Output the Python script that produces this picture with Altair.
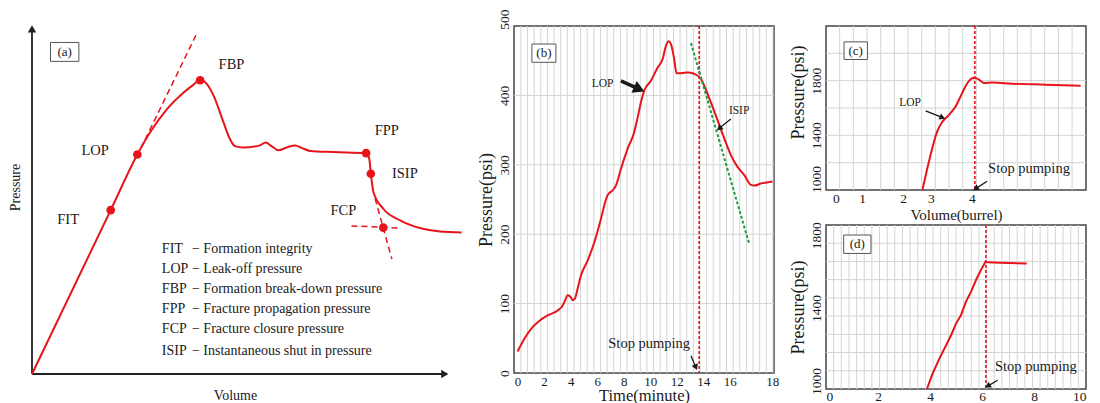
import math
import altair as alt
import pandas as pd

SERIF = "Liberation Serif, Times New Roman, DejaVu Serif, serif"
RED = "#e8141c"
GREEN = "#1f9d45"
GRID = "#d4d4d4"
FRAME = "#444444"
INK = "#1a1a1a"

# ---------------- panel (a): schematic (arbitrary units 0-100)
a_vol = [0, 18.3, 24.5, 27.4, 31.3, 35.2, 37.5, 39.1, 40.2, 42.2, 44.5, 46.0, 47.2, 49.1,
         53.0, 54.3, 55.7, 57.3, 59.2, 61.2, 62.7, 64.7, 70.1, 77.7, 78.4, 78.8, 79.4,
         81.7, 85.6, 90.2, 94.9, 99.9]
a_pres = [0, 46.8, 62.7, 68.9, 75.5, 80.3, 82.6, 83.9, 83.4, 79.6, 72.0, 67.2, 65.1, 64.7,
          65.3, 66.1, 65.1, 63.9, 64.7, 65.3, 64.6, 63.7, 63.4, 63.1, 61.7, 57.2, 52.0,
          47.2, 43.9, 41.7, 40.7, 40.4]
a_pt_vol = [18.3, 24.5, 39.1, 77.7, 78.8, 81.7]
a_pt_pres = [46.8, 62.7, 83.9, 63.1, 57.2, 41.8]
a_lab_name = ["FIT", "LOP", "FBP", "FPP", "ISIP", "FCP"]
a_lab_vol = [8.4, 14.7, 46.4, 82.5, 86.7, 72.4]
a_lab_pres = [43.9, 63.7, 88.2, 69.4, 57.2, 46.6]
a_dash_x1 = [25.3, 74.3, 79.8]
a_dash_y1 = [64.4, 42.3, 50.1]
a_dash_x2 = [38.3, 85.6, 83.7]
a_dash_y2 = [97.2, 41.7, 32.8]
leg_code = ["FIT", "LOP", "FBP", "FPP", "FCP", "ISIP"]
leg_desc = ["\u2212 Formation integrity", "\u2212 Leak-off pressure",
            "\u2212 Formation break-down pressure", "\u2212 Fracture propagation pressure",
            "\u2212 Fracture closure pressure", "\u2212 Instantaneous shut in pressure"]
leg_pres = [35.8, 30.1, 24.2, 18.5, 12.8, 6.5]

# ---------------- panel (b): pressure vs time
b_time = [0.0, 0.50, 1.13, 1.63, 2.26, 3.02, 3.39, 3.59, 3.77, 4.02, 4.15, 4.32, 4.52, 4.77,
          5.28, 5.78, 6.28, 6.53, 6.78, 7.16, 7.41, 7.79, 8.29, 8.79, 9.05, 9.30, 9.55,
          10.05, 10.55, 10.93, 11.18, 11.38, 11.56, 11.81, 11.98, 12.31, 12.81, 13.32,
          13.82, 14.07, 14.57, 15.08, 15.58, 16.08, 16.58, 17.09, 17.59, 17.84, 18.34, 19.22]
b_pres = [31, 49, 66, 75, 83, 90, 97, 105, 112, 109, 105, 107, 121, 140, 162, 188, 222, 241,
          256, 263, 270, 294, 323, 347, 368, 390, 407, 421, 440, 452, 471, 478, 474, 452,
          432, 432, 433, 431, 424, 414, 390, 364, 338, 314, 297, 285, 271, 270, 273, 276]
b_stop = [13.69]
b_tick_pos = [0, 2, 4, 6, 8, 10, 12, 14, 16, 19.2]
b_isip_line = [13.07, 475.5, 17.46, 186.0]

# ---------------- panel (c): pressure vs volume
c_vol = [2.79, 2.91, 3.03, 3.15, 3.28, 3.44, 3.60, 3.76, 3.89, 4.03, 4.13, 4.29, 4.50, 4.98, 5.80, 6.65]
c_pres = [1000, 1157, 1304, 1427, 1500, 1550, 1611, 1709, 1783, 1819, 1815, 1783, 1786, 1778, 1771, 1763]
c_stop = [4.07]
c_tick_pos = [0.68, 1.32, 2.32, 3.0, 4.0]
c_tick_txt = ["0", "1", "2", "3", "4"]

# ---------------- panel (d): pressure vs volume
d_vol = [3.88, 4.10, 4.36, 4.62, 4.81, 5.00, 5.19, 5.38, 5.58, 5.77, 5.96, 6.13, 6.22, 6.67, 7.72]
d_pres = [1000, 1084, 1167, 1240, 1295, 1359, 1405, 1478, 1534, 1598, 1653, 1698, 1695, 1693, 1689]
d_stop = [6.15]


def label_expr(pos, txt):
    e = "''"
    for p, t in reversed(list(zip(pos, txt))):
        e = f"abs(datum.value - {p}) < 0.001 ? '{t}' : ({e})"
    return e


def make_xy(xdom, ydom, xaxis, yaxis):
    def X(f):
        return alt.X(f, type="quantitative", axis=xaxis,
                     scale=alt.Scale(domain=xdom, nice=False, zero=False))

    def Y(f):
        return alt.Y(f, type="quantitative", axis=yaxis,
                     scale=alt.Scale(domain=ydom, nice=False, zero=False))
    return X, Y


def arrow(x1, y1, x2, y2, sx, sy, X, Y, width=1.3, head=45, color=INK):
    df = pd.DataFrame({"x": [x1], "y": [y1], "x2": [x2], "y2": [y2]})
    ang = math.degrees(math.atan2(-(y2 - y1) * sy, (x2 - x1) * sx)) % 360
    shaft = alt.Chart(df).mark_rule(color=color, strokeWidth=width).encode(
        x=X("x"), y=Y("y"), x2=alt.X2("x2"), y2=alt.Y2("y2"))
    tip = alt.Chart(df).mark_point(shape="triangle-right", filled=True, color=color,
                                   size=head, angle=ang, opacity=1).encode(x=X("x2"), y=Y("y2"))
    return [shaft, tip]


def texts(xs, ys, ts, X, Y, size, align="center"):
    df = pd.DataFrame({"x": xs, "y": ys, "t": ts})
    return alt.Chart(df).mark_text(font=SERIF, fontSize=size, align=align, baseline="middle",
                                   color=INK).encode(x=X("x"), y=Y("y"), text="t:N")


def box(x1, x2, y1, y2, label, X, Y):
    df = pd.DataFrame({"x": [x1], "x2": [x2], "y": [y1], "y2": [y2], "t": [label],
                       "xc": [(x1 + x2) / 2], "yc": [(y1 + y2) / 2]})
    r = alt.Chart(df).mark_rect(fill="white", stroke="#555555", strokeWidth=1).encode(
        x=X("x"), x2=alt.X2("x2"), y=Y("y"), y2=alt.Y2("y2"))
    t = alt.Chart(df).mark_text(font=SERIF, fontSize=13, color=INK).encode(
        x=X("xc"), y=Y("yc"), text="t:N")
    return [r, t]


def vgrid(vals, X):
    return alt.Chart(pd.DataFrame({"g": vals})).mark_rule(color=GRID, strokeWidth=1).encode(x=X("g"))


def hgrid(vals, Y):
    return alt.Chart(pd.DataFrame({"g": vals})).mark_rule(color=GRID, strokeWidth=1).encode(y=Y("g"))


def curve(xs, ys, X, Y, interp="monotone"):
    return alt.Chart(pd.DataFrame({"x": xs, "y": ys})).mark_line(
        color=RED, strokeWidth=2, interpolate=interp).encode(x=X("x"), y=Y("y"))


def vdash(vals, X):
    return alt.Chart(pd.DataFrame({"s": vals})).mark_rule(
        color=RED, strokeWidth=1.6, strokeDash=[3, 2]).encode(x=X("s"))


# ================= panel (a)
A_W, A_H = 430, 348
ax_a = alt.Axis(title="Volume", domain=False, ticks=False, labels=False, grid=False,
                titleFontSize=14, titleX=203, titleY=21, titleBaseline="middle")
ay_a = alt.Axis(title="Pressure", domain=False, ticks=False, labels=False, grid=False,
                titleFontSize=14, titlePadding=10, titleY=161)
XA, YA = make_xy([0, 100], [0, 99.4], ax_a, ay_a)

axes_df = pd.DataFrame({"x": [0, 0], "y": [0, 0], "x2": [0, 96.0], "y2": [98.6, 0]})
a_layers = [
    alt.Chart(axes_df).mark_rule(color="#222222", strokeWidth=1.8).encode(
        x=XA("x"), y=YA("y"), x2=alt.X2("x2"), y2=alt.Y2("y2")),
    alt.Chart(pd.DataFrame({"x": [0], "y": [98.6]})).mark_point(
        shape="triangle-up", filled=True, color="#222222", size=70, opacity=1).encode(x=XA("x"), y=YA("y")),
    alt.Chart(pd.DataFrame({"x": [96.0], "y": [0]})).mark_point(
        shape="triangle-right", filled=True, color="#222222", size=70, opacity=1).encode(x=XA("x"), y=YA("y")),
    alt.Chart(pd.DataFrame({"x": a_dash_x1, "y": a_dash_y1, "x2": a_dash_x2, "y2": a_dash_y2})).mark_rule(
        color=RED, strokeWidth=1.5, strokeDash=[6, 4]).encode(
        x=XA("x"), y=YA("y"), x2=alt.X2("x2"), y2=alt.Y2("y2")),
    curve(a_vol, a_pres, XA, YA),
    alt.Chart(pd.DataFrame({"x": a_pt_vol, "y": a_pt_pres})).mark_circle(
        color=RED, size=75, opacity=1).encode(x=XA("x"), y=YA("y")),
    texts(a_lab_vol, a_lab_pres, a_lab_name, XA, YA, 14.5),
    texts([30.2] * 6, leg_pres, leg_code, XA, YA, 14, align="left"),
    texts([37.2] * 6, leg_pres, leg_desc, XA, YA, 14, align="left"),
] + box(4.3, 10.9, 89.3, 94.7, "(a)", XA, YA)
panel_a = alt.layer(*a_layers).properties(width=A_W, height=A_H,
                                          view=alt.ViewBackground(strokeOpacity=0))

# ================= panel (b)
B_W, B_H = 260, 347
bx_dom = [-0.27, 19.33]
ax_b = alt.Axis(title="Time(minute)", values=b_tick_pos,
                labelExpr="datum.value > 17 ? '18' : datum.label", format="d",
                grid=False, domain=False, ticks=False, tickSize=0, labelPadding=2,
                titleY=22, titleBaseline="middle",
                labelFontSize=13, titleFontSize=16.5, labelOverlap=False)
ay_b = alt.Axis(title="Pressure(psi)", values=[0, 100, 200, 300, 400, 500], labelAngle=270,
                labelAlign="center", labelBaseline="alphabetic", labelPadding=6, grid=False,
                domain=False, ticks=False, tickSize=0, labelFontSize=13.5, titleFontSize=18,
                titlePadding=2, labelOverlap=False, format="d",
                labelOffset={"condition": {"test": "datum.value == 500", "value": -7}, "value": 0})
XB, YB = make_xy(bx_dom, [0, 500], ax_b, ay_b)
sxb, syb = B_W / (bx_dom[1] - bx_dom[0]), B_H / 500
b_grid = [0.25 + 0.5 * k for k in range(39)]
b_layers = [
    vgrid(b_grid, XB),
    hgrid([100, 200, 300, 400], YB),
    curve(b_time, b_pres, XB, YB),
    vdash(b_stop, XB),
    alt.Chart(pd.DataFrame({"x": [b_isip_line[0]], "y": [b_isip_line[1]],
                            "x2": [b_isip_line[2]], "y2": [b_isip_line[3]]})).mark_rule(
        color=GREEN, strokeWidth=2, strokeDash=[3, 2]).encode(
        x=XB("x"), y=YB("y"), x2=alt.X2("x2"), y2=alt.Y2("y2")),
    texts([6.41], [417], ["LOP"], XB, YB, 11.5),
    texts([16.7], [378], ["ISIP"], XB, YB, 11.5),
    texts([9.92], [41.8], ["Stop pumping"], XB, YB, 14.5),
] + arrow(7.79, 421, 9.17, 409, sxb, syb, XB, YB, width=3.5, head=170) \
  + arrow(16.08, 366, 15.2, 352.5, sxb, syb, XB, YB) \
  + arrow(13.07, 25, 13.44, 8.2, sxb, syb, XB, YB) \
  + box(1.08, 2.89, 447.7, 474, "(b)", XB, YB)
panel_b = alt.layer(*b_layers).properties(width=B_W, height=B_H,
                                          view=alt.ViewBackground(stroke=FRAME, strokeWidth=1.5))

# ================= panel (c)
C_W, C_H = 260, 164
cx_dom = [0.44, 6.78]
ax_c = alt.Axis(title="Volume(burrel)", values=c_tick_pos, labelExpr=label_expr(c_tick_pos, c_tick_txt),
                grid=False, domain=False, ticks=False, tickSize=0, labelPadding=1,
                titleY=24, titleBaseline="middle",
                labelFontSize=13.5, titleFontSize=15, labelOverlap=False)
ay_c = alt.Axis(title="Pressure(psi)", values=[1000, 1400, 1800], labelAngle=270,
                labelAlign="center", labelBaseline="alphabetic", labelPadding=6, grid=False,
                domain=False, ticks=False, tickSize=0, labelFontSize=13.5, titleFontSize=18,
                titlePadding=2, titleY=66, labelOverlap=False, format="d",
                labelOffset={"condition": {"test": "datum.value == 1000", "value": -11}, "value": 0})
XC, YC = make_xy(cx_dom, [1000, 2200], ax_c, ay_c)
sxc, syc = C_W / (cx_dom[1] - cx_dom[0]), C_H / 1200
c_grid = [cx_dom[0] + k / 3 for k in range(1, 19)]
c_layers = [
    vgrid(c_grid, XC),
    hgrid([1200, 1400, 1600, 1800, 2000], YC),
    curve(c_vol, c_pres, XC, YC),
    vdash(c_stop, XC),
    texts([2.49], [1635], ["LOP"], XC, YC, 11.5),
    texts([5.39], [1157], ["Stop pumping"], XC, YC, 14.5),
] + arrow(2.87, 1579, 3.28, 1530, sxc, syc, XC, YC) \
  + arrow(4.37, 1064, 4.09, 1010, sxc, syc, XC, YC) \
  + box(0.88, 1.45, 1955, 2084, "(c)", XC, YC)
panel_c = alt.layer(*c_layers).properties(width=C_W, height=C_H,
                                          view=alt.ViewBackground(stroke=FRAME, strokeWidth=1.5))

# ================= panel (d)
D_W, D_H = 260, 164
ax_d = alt.Axis(title=None, values=[0, 2, 4, 6, 8, 10], grid=False, domain=False, ticks=False,
                tickSize=0, labelPadding=0, labelFontSize=13.5, labelOverlap=False)
ay_d = alt.Axis(title="Pressure(psi)", values=[1000, 1400, 1800], labelAngle=270,
                labelAlign="center", labelBaseline="alphabetic", labelPadding=6, grid=False,
                domain=False, ticks=False, tickSize=0, labelFontSize=13.5, titleFontSize=18,
                titlePadding=2, labelOffset=-8, labelOverlap=False, format="d")
XD, YD = make_xy([0, 10], [1000, 1900], ax_d, ay_d)
sxd, syd = D_W / 10, D_H / 900
d_grid = [k * 10 / 34 for k in range(1, 34)]
d_layers = [
    vgrid(d_grid, XD),
    hgrid([1100 + 100 * k for k in range(8)], YD),
    curve(d_vol, d_pres, XD, YD, interp="linear"),
    vdash(d_stop, XD),
    texts([8.07], [1121], ["Stop pumping"], XD, YD, 14.5),
] + arrow(6.6, 1048, 6.22, 1016, sxd, syd, XD, YD) \
  + box(0.68, 1.73, 1744, 1845, "(d)", XD, YD)
panel_d = alt.layer(*d_layers).properties(width=D_W, height=D_H,
                                          view=alt.ViewBackground(stroke=FRAME, strokeWidth=1.5))

right = alt.vconcat(panel_c, panel_d, spacing=35, bounds="flush")
chart = alt.hconcat(panel_a, panel_b, right, spacing=52, bounds="flush").properties(
    padding={"left": 0, "top": 0, "right": 0, "bottom": 0}
).configure_axis(
    labelFont=SERIF, titleFont=SERIF, labelColor=INK, titleColor=INK, titleFontWeight="normal"
).configure_view(stroke=FRAME, strokeWidth=1.5)

chart.save("out.html", embed_options={"renderer": "svg", "actions": False})
